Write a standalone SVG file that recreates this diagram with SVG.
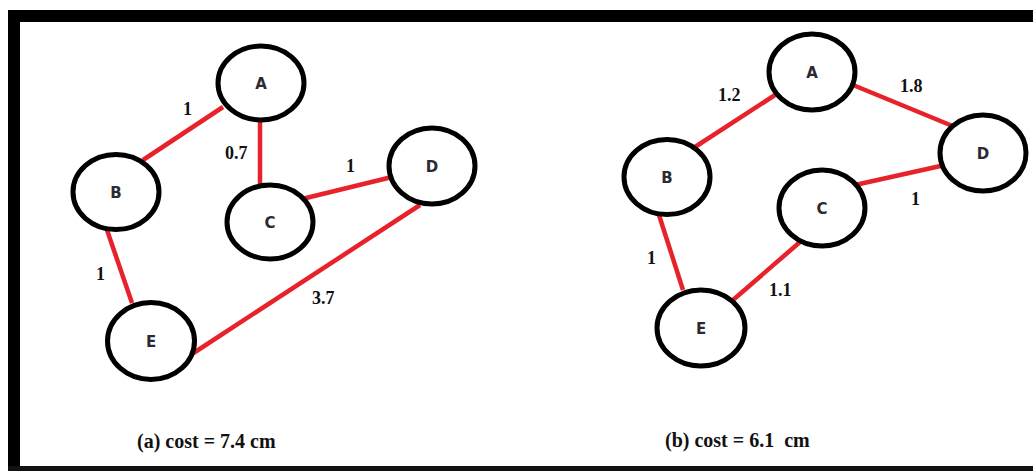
<svg xmlns="http://www.w3.org/2000/svg" width="1033" height="471" viewBox="0 0 1033 471">
<style>
.node{fill:#fff;stroke:#000;stroke-width:5}
.lbl{font-family:"DejaVu Sans","Liberation Sans",sans-serif;font-weight:bold;font-size:15px;fill:#2a2a33;text-anchor:middle}
.edge{stroke:#e8222b;stroke-width:4.5;fill:none}
.w{font-family:"Liberation Serif","Times New Roman",serif;font-weight:bold;font-size:18px;fill:#111}
.cap{font-family:"Liberation Serif","Times New Roman",serif;font-weight:bold;font-size:20px;fill:#111}
</style>
<rect width="1033" height="471" fill="#fff"/>
<g id="frame">
<rect x="8" y="10" width="1025" height="12" fill="#000"/>
<rect x="8" y="10" width="12" height="461" fill="#000"/>
<rect x="8" y="466" width="1025" height="5" fill="#111"/>
</g>
<g id="connectors">
<line class="edge" x1="143" y1="160" x2="223" y2="107"/>
<line class="edge" x1="260" y1="120" x2="260" y2="186"/>
<line class="edge" x1="302" y1="199" x2="392" y2="177"/>
<line class="edge" x1="420" y1="205" x2="192" y2="354"/>
<line class="edge" x1="107" y1="230" x2="132" y2="303"/>
<line class="edge" x1="695" y1="147" x2="775" y2="95"/>
<line class="edge" x1="853" y1="85" x2="955" y2="127"/>
<line class="edge" x1="855" y1="185" x2="945" y2="165"/>
<line class="edge" x1="659" y1="215" x2="683" y2="290"/>
<line class="edge" x1="800" y1="242" x2="733" y2="300"/>
</g>
<g id="weights">
<text class="w" x="183" y="115">1</text>
<text class="w" x="225" y="159">0.7</text>
<text class="w" x="346" y="172">1</text>
<text class="w" x="96" y="280">1</text>
<text class="w" x="312" y="304">3.7</text>
<text class="w" x="718" y="101">1.2</text>
<text class="w" x="900" y="92">1.8</text>
<text class="w" x="911" y="205">1</text>
<text class="w" x="647" y="264">1</text>
<text class="w" x="769" y="296">1.1</text>
</g>
<g id="nA1"><ellipse class="node" cx="261" cy="83" rx="43" ry="37"/><text class="lbl" x="261" y="89">A</text></g>
<g id="nB1"><ellipse class="node" cx="116" cy="192" rx="43" ry="37.5"/><text class="lbl" x="116" y="198">B</text></g>
<g id="nC1"><ellipse class="node" cx="270" cy="222" rx="43" ry="37"/><text class="lbl" x="270" y="228">C</text></g>
<g id="nD1"><ellipse class="node" cx="432" cy="166" rx="43" ry="38"/><text class="lbl" x="432" y="172">D</text></g>
<g id="nE1"><ellipse class="node" cx="151" cy="341" rx="43.5" ry="38.5"/><text class="lbl" x="151" y="347">E</text></g>
<g id="nA2"><ellipse class="node" cx="812" cy="72" rx="43" ry="38"/><text class="lbl" x="812" y="78">A</text></g>
<g id="nB2"><ellipse class="node" cx="667" cy="177" rx="43" ry="37.5"/><text class="lbl" x="667" y="183">B</text></g>
<g id="nC2"><ellipse class="node" cx="822" cy="208" rx="43" ry="38"/><text class="lbl" x="822" y="214">C</text></g>
<g id="nD2"><ellipse class="node" cx="983" cy="153" rx="43" ry="38"/><text class="lbl" x="983" y="159">D</text></g>
<g id="nE2"><ellipse class="node" cx="701" cy="328" rx="44" ry="38"/><text class="lbl" x="701" y="334">E</text></g>
<g id="captions">
<text class="cap" x="137" y="448">(a) cost = 7.4 cm</text>
<text class="cap" x="665" y="447" xml:space="preserve">(b) cost = 6.1  cm</text>
</g>
</svg>
